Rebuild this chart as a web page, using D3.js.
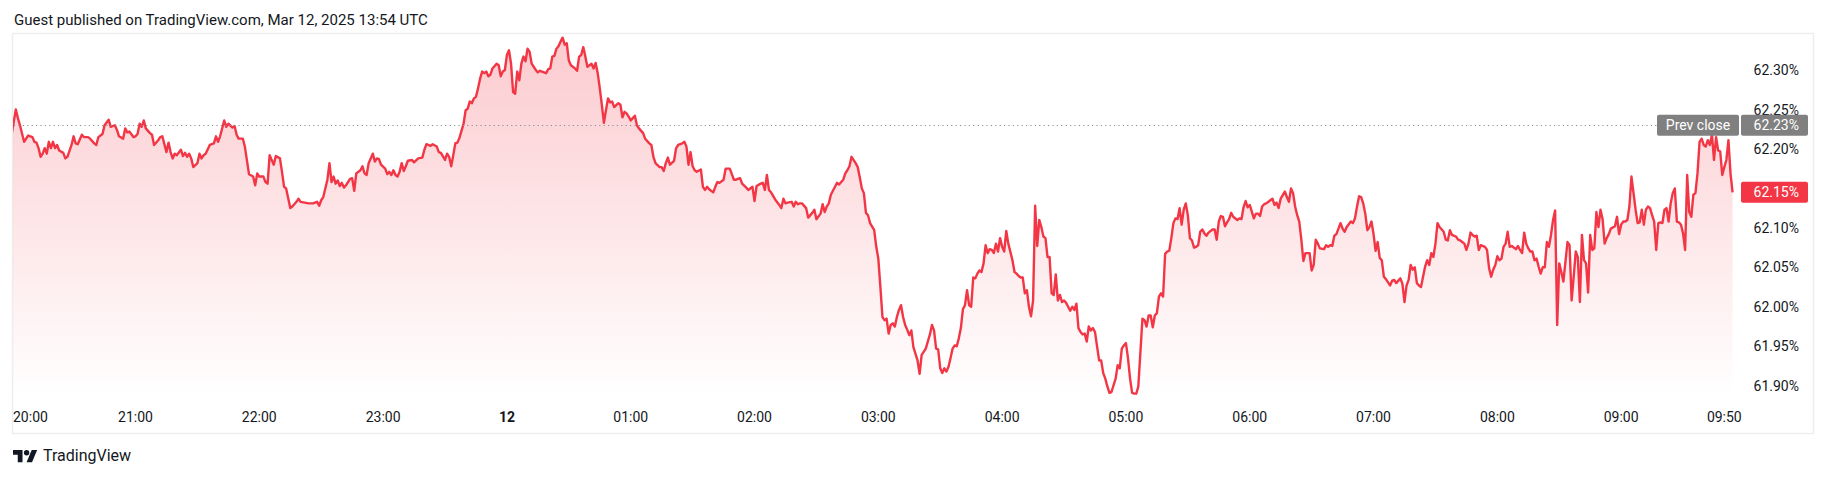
<!DOCTYPE html>
<html>
<head>
<meta charset="utf-8">
<script src="https://cdn.jsdelivr.net/npm/d3@7"></script>
<style>
  html, body { margin: 0; padding: 0; background: #ffffff; }
  svg text { font-family: Roboto, "Noto Sans", sans-serif; }
</style>
</head>
<body>
<svg id="chart"></svg>
<script>
// session start (first bar), every point is [minutes since start, yield %]
const sessionStart = "2025-03-11 20:00";
const titleText = "Guest published on TradingView.com, Mar 12, 2025 13:54 UTC";
const prevClose = 62.23;
const priceTicks = [61.90, 61.95, 62.00, 62.05, 62.10, 62.15, 62.20, 62.25, 62.30];
const timeTicks = ["2025-03-11 20:00", "2025-03-11 21:00", "2025-03-11 22:00", "2025-03-11 23:00",
  "2025-03-12 00:00", "2025-03-12 01:00", "2025-03-12 02:00", "2025-03-12 03:00", "2025-03-12 04:00",
  "2025-03-12 05:00", "2025-03-12 06:00", "2025-03-12 07:00", "2025-03-12 08:00", "2025-03-12 09:00",
  "2025-03-12 09:50"];

const series = [
  [0,62.219],[2,62.250],[3,62.239],[4,62.230],[6,62.209],[7,62.213],[8,62.217],[10,62.215],[11,62.209],[12,62.208],
  [13,62.201],[14,62.190],[15,62.194],[16,62.201],[17,62.194],[18,62.209],[19,62.201],[20,62.209],[21,62.201],[22,62.205],
  [23,62.198],[25,62.195],[26,62.188],[27,62.190],[29,62.205],[30,62.216],[31,62.207],[32,62.206],[34,62.218],[35,62.215],
  [37,62.215],[38,62.213],[40,62.207],[41,62.205],[42,62.215],[44,62.219],[45,62.230],[47,62.237],[48,62.228],[50,62.230],
  [51,62.224],[52,62.216],[54,62.213],[55,62.226],[56,62.221],[57,62.222],[59,62.215],[60,62.216],[61,62.219],[62,62.232],
  [63,62.228],[64,62.236],[65,62.226],[67,62.220],[68,62.218],[69,62.205],[71,62.211],[72,62.215],[73,62.216],[75,62.196],
  [76,62.208],[77,62.196],[78,62.188],[79,62.194],[80,62.192],[82,62.199],[83,62.191],[84,62.195],[85,62.190],[86,62.194],
  [87,62.188],[88,62.177],[90,62.182],[91,62.194],[92,62.188],[93,62.192],[94,62.194],[96,62.205],[98,62.207],[99,62.216],
  [100,62.209],[101,62.216],[103,62.236],[104,62.228],[105,62.232],[107,62.227],[108,62.229],[109,62.218],[110,62.213],[112,62.213],
  [113,62.203],[115,62.168],[117,62.165],[118,62.154],[119,62.169],[120,62.165],[122,62.165],[123,62.158],[124,62.156],[125,62.192],
  [127,62.180],[128,62.191],[130,62.188],[131,62.171],[132,62.152],[133,62.150],[135,62.125],[136,62.127],[138,62.133],[139,62.137],
  [140,62.133],[142,62.132],[144,62.131],[146,62.131],[148,62.133],[149,62.128],[150,62.135],[151,62.139],[153,62.161],[154,62.182],
  [155,62.158],[156,62.165],[157,62.156],[158,62.160],[159,62.153],[160,62.157],[161,62.151],[162,62.154],[164,62.162],[165,62.163],
  [166,62.147],[167,62.169],[169,62.173],[170,62.178],[171,62.169],[172,62.167],[173,62.182],[175,62.194],[176,62.184],[177,62.188],
  [178,62.187],[179,62.180],[181,62.175],[182,62.168],[183,62.171],[184,62.167],[185,62.173],[186,62.167],[187,62.165],[188,62.171],
  [189,62.182],[190,62.172],[191,62.178],[192,62.185],[194,62.186],[195,62.183],[197,62.188],[199,62.189],[200,62.199],[201,62.206],
  [203,62.204],[204,62.206],[206,62.203],[207,62.196],[208,62.195],[210,62.186],[211,62.194],[212,62.190],[213,62.178],[214,62.192],
  [215,62.207],[216,62.208],[217,62.214],[219,62.232],[220,62.249],[221,62.251],[222,62.260],[223,62.258],[224,62.264],[225,62.266],
  [226,62.277],[227,62.289],[228,62.298],[229,62.296],[230,62.298],[231,62.292],[232,62.294],[233,62.302],[235,62.308],[236,62.306],
  [237,62.292],[238,62.298],[239,62.300],[240,62.319],[241,62.325],[242,62.308],[243,62.272],[244,62.270],[245,62.298],[246,62.287],
  [247,62.308],[248,62.317],[249,62.311],[250,62.327],[251,62.323],[252,62.308],[254,62.300],[255,62.297],[256,62.299],[257,62.298],
  [259,62.296],[260,62.301],[261,62.302],[262,62.317],[263,62.318],[264,62.327],[265,62.330],[266,62.336],[267,62.341],[268,62.332],
  [269,62.334],[270,62.312],[271,62.306],[273,62.302],[274,62.299],[275,62.317],[276,62.319],[277,62.329],[278,62.317],[279,62.304],
  [281,62.308],[282,62.302],[283,62.309],[284,62.296],[285,62.277],[286,62.256],[287,62.233],[288,62.249],[289,62.264],[290,62.259],
  [291,62.260],[292,62.253],[294,62.258],[295,62.256],[296,62.240],[297,62.247],[298,62.245],[299,62.241],[300,62.236],[301,62.239],
  [302,62.242],[303,62.230],[304,62.226],[306,62.220],[307,62.213],[309,62.207],[310,62.205],[311,62.190],[312,62.182],[314,62.177],
  [315,62.177],[316,62.172],[317,62.182],[318,62.189],[319,62.180],[321,62.185],[322,62.201],[323,62.205],[325,62.207],[326,62.209],
  [327,62.203],[328,62.180],[329,62.196],[330,62.178],[331,62.173],[332,62.171],[334,62.174],[335,62.152],[336,62.148],[337,62.152],
  [338,62.149],[340,62.145],[341,62.152],[342,62.158],[343,62.157],[345,62.161],[346,62.175],[348,62.175],[349,62.168],[350,62.161],
  [351,62.161],[353,62.163],[354,62.156],[356,62.151],[357,62.148],[359,62.152],[360,62.134],[361,62.153],[363,62.156],[364,62.157],
  [365,62.148],[366,62.167],[367,62.148],[368,62.145],[370,62.136],[372,62.129],[373,62.125],[374,62.137],[375,62.131],[376,62.132],
  [378,62.133],[379,62.127],[380,62.133],[381,62.130],[382,62.131],[383,62.131],[385,62.125],[386,62.113],[388,62.119],[389,62.123],
  [390,62.111],[392,62.118],[393,62.130],[394,62.120],[395,62.127],[396,62.131],[397,62.142],[399,62.152],[400,62.157],[401,62.155],
  [402,62.158],[403,62.161],[404,62.169],[405,62.173],[406,62.178],[407,62.190],[409,62.182],[410,62.177],[411,62.164],[412,62.150],
  [413,62.144],[414,62.119],[415,62.116],[416,62.106],[418,62.097],[419,62.076],[420,62.061],[421,62.025],[422,61.987],[423,61.983],
  [424,61.985],[425,61.966],[426,61.977],[427,61.979],[428,61.975],[429,61.987],[430,61.996],[431,62.002],[432,61.987],[433,61.977],
  [434,61.971],[435,61.964],[436,61.970],[437,61.949],[439,61.932],[440,61.915],[441,61.939],[443,61.947],[444,61.956],[445,61.965],
  [446,61.977],[447,61.970],[448,61.947],[449,61.946],[450,61.922],[451,61.916],[452,61.922],[453,61.918],[454,61.924],[455,61.935],
  [456,61.947],[457,61.951],[458,61.950],[459,61.960],[460,61.973],[461,61.997],[462,62.002],[463,62.021],[464,62.002],[465,62.000],
  [466,62.037],[467,62.036],[468,62.042],[469,62.046],[470,62.044],[471,62.055],[472,62.078],[473,62.068],[474,62.073],[475,62.072],
  [476,62.068],[477,62.080],[478,62.070],[479,62.087],[480,62.076],[481,62.070],[482,62.096],[483,62.080],[485,62.059],[486,62.044],
  [487,62.042],[488,62.039],[489,62.037],[490,62.037],[491,62.017],[492,62.021],[493,62.000],[494,61.988],[495,62.008],[496,62.128],
  [497,62.077],[498,62.110],[499,62.101],[500,62.089],[501,62.087],[502,62.063],[503,62.063],[504,62.017],[505,62.015],[506,62.041],
  [507,62.008],[508,62.015],[509,62.006],[510,62.008],[511,62.005],[513,61.995],[514,62.000],[515,61.996],[516,62.004],[517,61.973],
  [518,61.968],[519,61.965],[520,61.966],[521,61.956],[522,61.975],[523,61.970],[524,61.973],[525,61.968],[527,61.932],[528,61.932],
  [529,61.916],[530,61.909],[531,61.899],[532,61.891],[533,61.892],[535,61.909],[536,61.926],[537,61.922],[538,61.947],[539,61.951],
  [540,61.954],[541,61.935],[542,61.909],[543,61.891],[544,61.890],[545,61.890],[546,61.899],[548,61.985],[549,61.983],[550,61.975],
  [551,61.989],[552,61.989],[553,61.974],[554,61.989],[555,61.992],[556,62.013],[557,62.017],[558,62.013],[559,62.067],[560,62.070],
  [561,62.071],[562,62.087],[563,62.106],[564,62.112],[565,62.111],[566,62.125],[567,62.104],[568,62.123],[569,62.131],[570,62.116],
  [571,62.087],[572,62.084],[573,62.075],[574,62.076],[575,62.078],[576,62.095],[577,62.098],[578,62.093],[579,62.090],[580,62.094],
  [582,62.098],[583,62.098],[584,62.085],[585,62.108],[586,62.115],[587,62.114],[588,62.102],[589,62.107],[590,62.111],[591,62.119],
  [592,62.114],[594,62.110],[595,62.112],[596,62.111],[597,62.126],[598,62.134],[599,62.126],[600,62.129],[602,62.112],[603,62.118],
  [604,62.118],[605,62.115],[606,62.127],[607,62.130],[608,62.131],[610,62.135],[611,62.137],[612,62.129],[613,62.132],[614,62.125],
  [615,62.137],[617,62.146],[618,62.139],[619,62.133],[620,62.150],[621,62.144],[622,62.127],[623,62.116],[624,62.108],[625,62.085],
  [626,62.058],[627,62.068],[628,62.068],[629,62.068],[630,62.046],[631,62.053],[632,62.085],[633,62.080],[634,62.074],[636,62.073],
  [637,62.078],[638,62.076],[639,62.078],[640,62.077],[641,62.090],[642,62.092],[644,62.106],[645,62.099],[646,62.095],[647,62.101],
  [649,62.108],[650,62.106],[651,62.112],[652,62.127],[653,62.140],[654,62.139],[655,62.131],[656,62.118],[657,62.097],[658,62.101],
  [659,62.108],[660,62.092],[661,62.071],[662,62.082],[663,62.062],[664,62.059],[665,62.038],[666,62.035],[668,62.027],[669,62.033],
  [670,62.034],[671,62.030],[673,62.036],[674,62.029],[675,62.006],[676,62.027],[677,62.034],[678,62.053],[679,62.047],[680,62.050],
  [681,62.030],[682,62.027],[683,62.025],[684,62.038],[685,62.051],[686,62.059],[687,62.053],[688,62.068],[689,62.063],[690,62.080],
  [691,62.106],[692,62.101],[694,62.095],[695,62.085],[696,62.084],[697,62.097],[698,62.091],[700,62.089],[701,62.085],[702,62.084],
  [703,62.082],[704,62.080],[705,62.072],[706,62.080],[707,62.094],[708,62.091],[709,62.089],[710,62.090],[711,62.072],[712,62.078],
  [714,62.076],[715,62.072],[716,62.049],[717,62.038],[718,62.047],[719,62.053],[720,62.064],[721,62.059],[722,62.061],[723,62.076],
  [724,62.080],[725,62.095],[726,62.076],[727,62.077],[729,62.073],[730,62.077],[731,62.072],[732,62.068],[733,62.094],[734,62.080],
  [735,62.074],[736,62.070],[737,62.070],[738,62.059],[739,62.061],[740,62.051],[741,62.042],[742,62.050],[743,62.050],[744,62.082],
  [745,62.076],[746,62.091],[747,62.110],[748,62.122],[749,61.977],[750,62.055],[751,62.044],[752,62.032],[753,62.057],[754,62.082],
  [755,62.078],[756,62.008],[757,62.038],[758,62.070],[759,62.063],[760,62.006],[761,62.091],[762,62.059],[763,62.055],[764,62.018],
  [765,62.091],[766,62.072],[767,62.074],[768,62.120],[769,62.101],[770,62.123],[771,62.111],[772,62.080],[773,62.087],[774,62.092],
  [775,62.099],[777,62.102],[778,62.114],[779,62.092],[780,62.104],[781,62.108],[782,62.108],[783,62.110],[784,62.127],[785,62.165],
  [786,62.144],[787,62.123],[788,62.106],[789,62.107],[790,62.123],[791,62.104],[792,62.123],[793,62.127],[794,62.125],[795,62.116],
  [796,62.108],[797,62.072],[798,62.106],[799,62.107],[800,62.106],[801,62.123],[802,62.125],[803,62.108],[804,62.131],[805,62.144],
  [806,62.150],[807,62.108],[808,62.107],[809,62.104],[810,62.093],[811,62.072],[812,62.167],[813,62.120],[814,62.114],[815,62.142],
  [816,62.144],[817,62.169],[818,62.209],[819,62.213],[820,62.205],[821,62.203],[822,62.211],[823,62.205],[824,62.218],[825,62.186],
  [826,62.215],[827,62.198],[828,62.197],[829,62.167],[830,62.177],[831,62.186],[832,62.211],[833,62.169],[834,62.145]
];

const W = 1827, H = 478;
const TEXT = "#131722", RED = "#f23645", GREY = "#808080";

// pane geometry
const paneLeft = 12, paneRight = 1740, paneTop = 33, paneBottom = 398;
const frameRight = 1813, frameBottom = 433;

const parseTime = d3.timeParse("%Y-%m-%d %H:%M");
const t0 = parseTime(sessionStart);
const points = series.map(d => ({ t: new Date(t0.getTime() + d[0] * 60000), v: d[1] }));
const last = points[points.length - 1];

const svg = d3.select("#chart").attr("width", W).attr("height", H);

// 2.063 px per minute, start bar sits right on the pane edge
const x = d3.scaleTime()
  .domain([t0, new Date(t0.getTime() + 837.6 * 60000)])
  .range([11.7, paneRight]);

const y = d3.scaleLinear()
  .domain([61.90, 62.30])
  .range([385.7, 70]);

// outer frame
svg.append("rect")
  .attr("x", paneLeft + 0.5).attr("y", paneTop + 0.5)
  .attr("width", frameRight - paneLeft).attr("height", frameBottom - paneTop)
  .attr("fill", "none").attr("stroke", "#eeeeee").attr("stroke-width", 1.5);

const defs = svg.append("defs");
const topY = y(d3.max(points, d => d.v));
const grad = defs.append("linearGradient")
  .attr("id", "areaFill").attr("gradientUnits", "userSpaceOnUse")
  .attr("x1", 0).attr("x2", 0).attr("y1", topY).attr("y2", paneBottom);
grad.append("stop").attr("offset", 0).attr("stop-color", RED).attr("stop-opacity", 0.26);
grad.append("stop").attr("offset", 1).attr("stop-color", RED).attr("stop-opacity", 0.0);

defs.append("clipPath").attr("id", "pane")
  .append("rect").attr("x", paneLeft + 1).attr("y", paneTop + 1)
  .attr("width", paneRight - paneLeft).attr("height", paneBottom - paneTop);

const plot = svg.append("g").attr("clip-path", "url(#pane)");

plot.append("path")
  .datum(points)
  .attr("fill", "url(#areaFill)")
  .attr("d", d3.area().x(d => x(d.t)).y0(paneBottom).y1(d => y(d.v)));

plot.append("path")
  .datum(points)
  .attr("fill", "none")
  .attr("stroke", RED)
  .attr("stroke-width", 2.4)
  .attr("stroke-linejoin", "round")
  .attr("d", d3.line().x(d => x(d.t)).y(d => y(d.v)));

// previous close, dotted
const prevY = Math.round(y(prevClose)) + 0.5;
svg.append("line")
  .attr("x1", paneLeft + 2).attr("x2", 1657)
  .attr("y1", prevY).attr("y2", prevY)
  .attr("stroke", "#8a8d96").attr("stroke-width", 1)
  .attr("stroke-dasharray", "1.2,3.2");

// price scale
svg.append("g").selectAll("text")
  .data(priceTicks)
  .join("text")
  .attr("x", 1799).attr("y", d => y(d))
  .attr("dy", "0.36em")
  .attr("text-anchor", "end")
  .attr("font-size", 14)
  .attr("fill", TEXT)
  .text(d => d.toFixed(2) + "%");

// time scale, midnight shows the day number in bold
const fmtHM = d3.timeFormat("%H:%M"), fmtDay = d3.timeFormat("%-d");
svg.append("g").selectAll("text")
  .data(timeTicks.map(parseTime))
  .join("text")
  .attr("x", d => Math.max(x(d), paneLeft + 1))
  .attr("y", 421.5)
  .attr("text-anchor", d => x(d) - 18 < paneLeft ? "start" : "middle")
  .attr("font-size", 14)
  .attr("font-weight", d => (d.getHours() === 0 && d.getMinutes() === 0) ? "bold" : "normal")
  .attr("fill", TEXT)
  .text(d => (d.getHours() === 0 && d.getMinutes() === 0) ? fmtDay(d) : fmtHM(d));

// price tags
function tag(x0, w, cy, fill, label, anchor) {
  const g = svg.append("g");
  g.append("rect")
    .attr("x", x0).attr("y", cy - 10.5)
    .attr("width", w).attr("height", 21).attr("rx", 2)
    .attr("fill", fill);
  g.append("text")
    .attr("x", anchor === "middle" ? x0 + w / 2 : 1799)
    .attr("y", cy).attr("dy", "0.36em")
    .attr("text-anchor", anchor)
    .attr("font-size", 14)
    .attr("fill", "#ffffff")
    .text(label);
}
tag(1657, 82, y(prevClose), GREY, "Prev close", "middle");
tag(1741, 67, y(prevClose), GREY, prevClose.toFixed(2) + "%", "end");
tag(1741, 67, y(last.v), RED, last.v.toFixed(2) + "%", "end");

// header
svg.append("text")
  .attr("x", 14).attr("y", 25)
  .attr("font-size", 15)
  .attr("fill", TEXT)
  .text(titleText);

// footer logo
const logo = svg.append("g")
  .attr("transform", "translate(13,447.3) scale(0.68)")
  .attr("fill", TEXT);
logo.append("path").attr("d", "M14 22H7V11H0V4h14v18z");
logo.append("path").attr("d", "M28 22h-8l7.5-18h8L28 22z");
logo.append("circle").attr("cx", 20).attr("cy", 8).attr("r", 4);

svg.append("text")
  .attr("x", 43).attr("y", 461)
  .attr("font-size", 16)
  .attr("fill", TEXT)
  .text("TradingView");
</script>
</body>
</html>
